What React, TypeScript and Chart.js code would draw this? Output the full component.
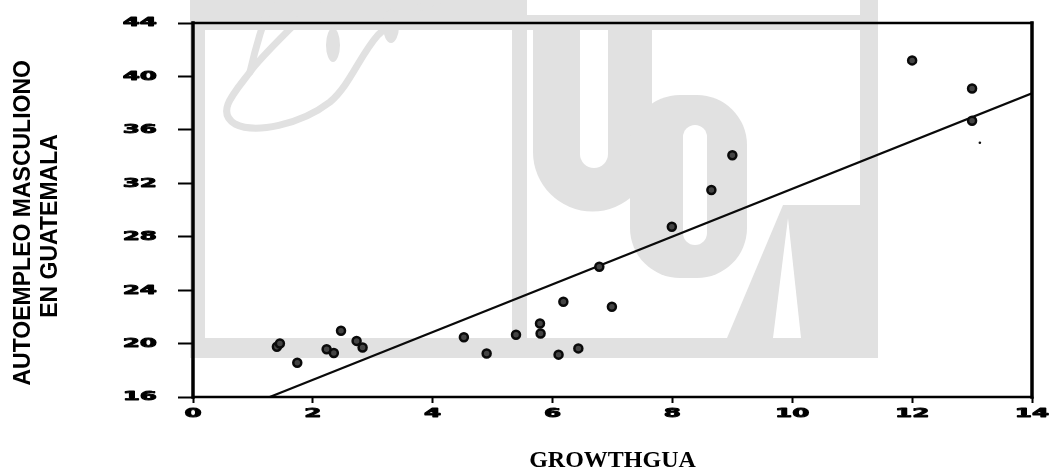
import React, { useEffect, useRef } from "react";
import { Chart, registerables } from "chart.js";

Chart.register(...registerables);

// ---- data ----
const xTicks = [0, 2, 4, 6, 8, 10, 12, 14];
const yTicks = [16, 20, 24, 28, 32, 36, 40, 44];

const growthGua = [1.4, 1.45, 1.74, 2.23, 2.35, 2.47, 2.73, 2.83, 4.52, 4.9, 5.39, 5.79, 5.8, 6.1, 6.18, 6.43, 6.78, 6.99, 7.99, 8.65, 9.0, 12.0, 13.0, 13.0];
const autoempleo = [19.76, 20.0, 18.57, 19.57, 19.3, 20.96, 20.2, 19.7, 20.47, 19.26, 20.66, 21.5, 20.76, 19.17, 23.13, 19.64, 25.75, 22.76, 28.75, 31.5, 34.1, 41.2, 39.1, 36.68];

const strayX = [13.13];
const strayY = [35.04];

const fitX = [1.28, 14];
const fitY = [16, 38.73];

const xTitle = "GROWTHGUA";
const yTitle = ["AUTOEMPLEO MASCULIONO    ", "EN GUATEMALA     "];

// ---- plugins ----
const WM = "#e1e1e1";

const watermarkPlugin = {
  id: "watermark",
  beforeDraw(chart: any) {
    const ctx = chart.ctx as CanvasRenderingContext2D;
    ctx.save();
    ctx.fillStyle = WM;
    // frame
    ctx.fillRect(190, 0, 688, 358);
    ctx.fillStyle = "#ffffff";
    ctx.fillRect(205, 30, 307, 308);
    ctx.fillRect(527, 30, 333, 308);
    ctx.fillRect(527, 0, 333, 15);
    // dolphin outline
    ctx.strokeStyle = WM;
    ctx.lineWidth = 7;
    ctx.lineCap = "round";
    ctx.beginPath();
    ctx.moveTo(318, 0);
    ctx.bezierCurveTo(290, 30, 262, 55, 250, 72);
    ctx.bezierCurveTo(235, 92, 215, 112, 235, 124);
    ctx.bezierCurveTo(255, 134, 300, 125, 330, 102);
    ctx.bezierCurveTo(350, 85, 360, 55, 378, 35);
    ctx.bezierCurveTo(395, 18, 420, 6, 440, 0);
    ctx.stroke();
    ctx.beginPath();
    ctx.moveTo(272, 0);
    ctx.bezierCurveTo(262, 25, 255, 50, 250, 72);
    ctx.stroke();
    ctx.fillStyle = WM;
    ctx.beginPath();
    ctx.ellipse(333, 45, 7, 17, 0, 0, Math.PI * 2);
    ctx.fill();
    ctx.beginPath();
    ctx.ellipse(391, 26, 8, 17, 0, 0, Math.PI * 2);
    ctx.fill();
    // U
    ctx.beginPath();
    ctx.moveTo(533, 30);
    ctx.lineTo(533, 152);
    ctx.arc(592.5, 152, 59.5, Math.PI, 0, true);
    ctx.lineTo(652, 30);
    ctx.closePath();
    ctx.fill();
    ctx.fillStyle = "#ffffff";
    ctx.beginPath();
    ctx.moveTo(580, 30);
    ctx.lineTo(580, 154);
    ctx.arc(594, 154, 14, Math.PI, 0, true);
    ctx.lineTo(608, 30);
    ctx.closePath();
    ctx.fill();
    // C
    ctx.fillStyle = WM;
    ctx.beginPath();
    (ctx as any).roundRect(630, 95, 117, 183, 50);
    ctx.fill();
    ctx.fillStyle = "#ffffff";
    ctx.beginPath();
    (ctx as any).roundRect(683, 125, 24, 120, 12);
    ctx.fill();
    // A
    ctx.fillStyle = WM;
    ctx.beginPath();
    ctx.moveTo(783, 205);
    ctx.lineTo(860, 205);
    ctx.lineTo(860, 338);
    ctx.lineTo(727, 338);
    ctx.closePath();
    ctx.fill();
    ctx.fillStyle = "#ffffff";
    ctx.beginPath();
    ctx.moveTo(788, 218);
    ctx.lineTo(801, 338);
    ctx.lineTo(773, 338);
    ctx.closePath();
    ctx.fill();
    ctx.restore();
  },
};

const framePlugin = {
  id: "frameAndLabels",
  afterDraw(chart: any) {
    const ctx = chart.ctx as CanvasRenderingContext2D;
    const a = chart.chartArea;
    ctx.save();
    ctx.strokeStyle = "#000";
    ctx.lineCap = "square";
    ctx.lineWidth = 2.5;
    ctx.beginPath();
    ctx.moveTo(a.left, a.top);
    ctx.lineTo(a.right, a.top);
    ctx.moveTo(a.left, a.bottom);
    ctx.lineTo(a.right, a.bottom);
    ctx.stroke();
    ctx.lineWidth = 3.5;
    ctx.beginPath();
    ctx.moveTo(a.left, a.top);
    ctx.lineTo(a.left, a.bottom);
    ctx.moveTo(a.right, a.top);
    ctx.lineTo(a.right, a.bottom);
    ctx.stroke();

    // stretched tick labels
    const sx = 1.9;
    ctx.fillStyle = "#000";
    ctx.strokeStyle = "#000";
    ctx.lineWidth = 0.9;
    ctx.lineJoin = "round";
    ctx.font = 'bold 13px "DejaVu Sans"';
    ctx.textBaseline = "middle";
    const xs = chart.scales.x;
    const ys = chart.scales.y;
    xs.ticks.forEach((t: any) => {
      const px = xs.getPixelForValue(t.value);
      ctx.save();
      ctx.translate(px, a.bottom + 17);
      ctx.scale(sx, 1);
      ctx.textAlign = "center";
      ctx.fillText(String(t.value), 0, 0);
      ctx.strokeText(String(t.value), 0, 0);
      ctx.restore();
    });
    ys.ticks.forEach((t: any) => {
      const py = ys.getPixelForValue(t.value);
      ctx.save();
      ctx.translate(a.left - 36, py);
      ctx.scale(sx, 1);
      ctx.textAlign = "right";
      ctx.fillText(String(t.value), 0, 0);
      ctx.strokeText(String(t.value), 0, 0);
      ctx.restore();
    });
    ctx.restore();
  },
};

export default function App() {
  const ref = useRef<HTMLCanvasElement | null>(null);

  useEffect(() => {
    if (!ref.current) return;
    const points = growthGua.map((x, i) => ({ x, y: autoempleo[i] }));
    const stray = strayX.map((x, i) => ({ x, y: strayY[i] }));
    const fit = fitX.map((x, i) => ({ x, y: fitY[i] }));

    const chart = new Chart(ref.current, {
      type: "scatter",
      data: {
        datasets: [
          {
            label: "Observaciones",
            data: points,
            pointStyle: "circle",
            pointRadius: 4,
            pointBorderWidth: 2.5,
            pointBackgroundColor: "#444",
            pointBorderColor: "#0a0a0a",
            showLine: false,
          },
          {
            label: "punto",
            data: stray,
            pointRadius: 1.3,
            pointBorderWidth: 0,
            pointBackgroundColor: "#111",
            showLine: false,
          },
          {
            label: "Regresión",
            data: fit,
            showLine: true,
            pointRadius: 0,
            borderColor: "#0a0a0a",
            borderWidth: 2.2,
            fill: false,
          },
        ],
      },
      options: {
        animation: false,
        responsive: false,
        devicePixelRatio: 1,
        layout: { padding: { left: 0, right: 22, top: 23, bottom: 0 } },
        plugins: {
          legend: { display: false },
          tooltip: { enabled: false },
        },
        scales: {
          x: {
            type: "linear",
            min: 0,
            max: 14,
            afterBuildTicks: (s: any) => {
              s.ticks = xTicks.map((v) => ({ value: v }));
            },
            afterFit: (s: any) => {
              s.height = 79;
            },
            border: { display: false },
            grid: {
              drawOnChartArea: false,
              drawTicks: true,
              tickLength: 6,
              tickColor: "#000",
              tickWidth: 2,
            },
            ticks: { display: false },
            title: {
              display: true,
              text: xTitle,
              color: "#000",
              font: { family: '"Liberation Serif"', weight: "bold", size: 24 },
              padding: { top: 0, bottom: 1 },
            },
          },
          y: {
            type: "linear",
            min: 16,
            max: 44,
            afterBuildTicks: (s: any) => {
              s.ticks = yTicks.map((v) => ({ value: v }));
            },
            afterFit: (s: any) => {
              s.width = 193;
            },
            border: { display: false },
            grid: {
              drawOnChartArea: false,
              drawTicks: true,
              tickLength: 15,
              tickColor: "#000",
              tickWidth: 2,
            },
            ticks: { display: false },
            title: {
              display: true,
              text: yTitle,
              color: "#000",
              font: { family: '"Liberation Sans"', weight: "bold", size: 23, lineHeight: "27px" },
              padding: { top: 10, bottom: 0 },
            },
          },
        },
      },
      plugins: [watermarkPlugin, framePlugin],
    } as any);

    return () => chart.destroy();
  }, []);

  return (
    <div style={{ position: "fixed", left: 0, top: 0, width: 1054, height: 476, background: "#fff" }}>
      <canvas ref={ref} width={1054} height={476} style={{ display: "block" }} />
    </div>
  );
}
